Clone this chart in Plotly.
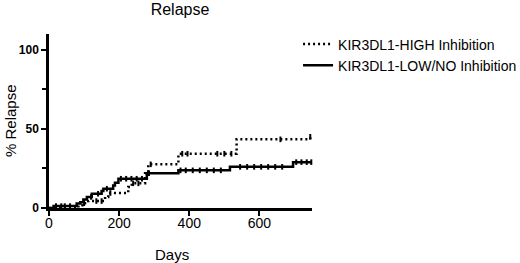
import numpy as np
import plotly.graph_objects as go

# Data (step functions: cumulative % relapse from the given day onwards)
high_days = [0, 84, 95, 112, 160, 169, 226, 236, 274, 283, 369, 535, 745, 750]
high_pct = [0, 1.7, 3.0, 4.4, 7.0, 9.5, 13.3, 15.6, 22.0, 27.6, 34.3, 43.4, 45.0, 45.0]
high_censor = [100, 135, 150, 175, 240, 255, 290, 380, 395, 480, 500, 520, 660, 745]

low_days = [0, 13, 79, 89, 98, 108, 122, 150, 155, 183, 188, 198, 279, 369, 516, 696, 750]
low_pct = [0, 1.2, 2.8, 3.6, 5.3, 7.0, 9.0, 10.7, 12.2, 14.3, 16.0, 18.5, 22.0, 23.8, 26.0, 29.0, 29.0]
low_censor = [20, 35, 45, 60, 120, 140, 165, 205, 220, 235, 250, 265, 285, 375, 390, 410,
              430, 450, 470, 490, 545, 565, 585, 605, 625, 645, 665, 705, 720, 735, 748]

series_names = ["KIR3DL1-HIGH Inhibition", "KIR3DL1-LOW/NO Inhibition"]
x_ticks = [0, 200, 400, 600]
y_ticks = [0, 50, 100]

FONT = "Arial, Liberation Sans, sans-serif"


def step_value(days, pct, t):
    idx = np.searchsorted(np.array(days), t, side="right") - 1
    return [pct[i] for i in idx]


fig = go.Figure()

fig.add_trace(go.Scatter(
    x=high_days, y=high_pct, mode="lines", line_shape="hv",
    line=dict(color="black", width=2.5, dash="2px,3px"),
    name=series_names[0], cliponaxis=False))
fig.add_trace(go.Scatter(
    x=low_days, y=low_pct, mode="lines", line_shape="hv",
    line=dict(color="black", width=2.5),
    name=series_names[1], cliponaxis=False))

fig.add_trace(go.Scatter(
    x=high_censor, y=step_value(high_days, high_pct, high_censor), mode="markers",
    marker=dict(symbol="line-ns", size=4, line=dict(color="black", width=2)),
    showlegend=False, hoverinfo="skip", cliponaxis=False))
fig.add_trace(go.Scatter(
    x=low_censor, y=step_value(low_days, low_pct, low_censor), mode="markers",
    marker=dict(symbol="line-ns", size=4, line=dict(color="black", width=2)),
    showlegend=False, hoverinfo="skip", cliponaxis=False))

dom_l, dom_r, dom_t, dom_b = 49, 312, 34, 208
W, H = 520, 263

fig.update_layout(
    width=W, height=H,
    margin=dict(l=dom_l, r=W - dom_r, t=dom_t, b=H - dom_b, autoexpand=False),
    paper_bgcolor="white", plot_bgcolor="white",
    font=dict(family=FONT, color="black", size=13),
    title=dict(text="Relapse", x=180 / W, xanchor="center", xref="container",
               y=1 - 9 / H, yanchor="middle", yref="container",
               font=dict(size=16, family=FONT)),
    showlegend=True,
    legend=dict(x=0.947, y=1.032, xanchor="left", yanchor="top",
                font=dict(size=14, family=FONT), bgcolor="rgba(0,0,0,0)",
                itemwidth=30),
    xaxis=dict(range=[0, 750], showgrid=False, zeroline=False, automargin=False,
               showline=True, linecolor="black", linewidth=2.5,
               ticks="outside", ticklen=5, tickwidth=2, tickcolor="black",
               tickvals=x_ticks, ticktext=[str(v) for v in x_ticks],
               ticklabelstandoff=-5,
               tickfont=dict(size=14, family=FONT)),
    yaxis=dict(range=[0, 110], showgrid=False, zeroline=False, automargin=False,
               showline=True, linecolor="black", linewidth=2.5,
               ticks="outside", ticklen=5, tickwidth=2, tickcolor="black",
               tickvals=y_ticks, ticktext=["<b>%d</b>" % v for v in y_ticks],
               tickfont=dict(size=12, family=FONT),
               minor=dict(tickvals=[25, 75], ticks="outside", ticklen=4,
                          tickwidth=2, tickcolor="black")),
    annotations=[
        dict(text="Days", x=(172 - dom_l) / (dom_r - dom_l), y=(dom_b - 254) / (dom_b - dom_t),
             xref="paper", yref="paper", xanchor="center", yanchor="middle",
             showarrow=False, font=dict(size=15, family=FONT)),
        dict(text="% Relapse", x=(10 - dom_l) / (dom_r - dom_l), y=(dom_b - 121) / (dom_b - dom_t),
             xref="paper", yref="paper", xanchor="center", yanchor="middle",
             textangle=-90, showarrow=False, font=dict(size=15, family=FONT)),
    ],
)

fig.write_html("out.html", config={"displayModeBar": False},
               post_script="document.body.style.margin='0';")
